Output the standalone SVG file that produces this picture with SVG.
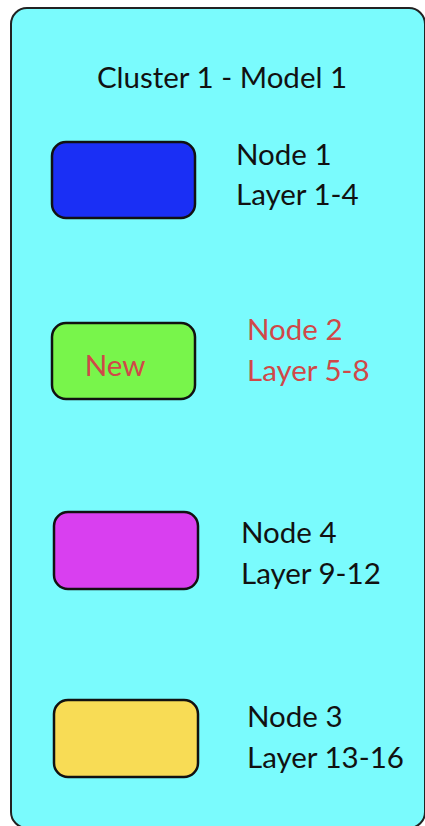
<svg xmlns="http://www.w3.org/2000/svg" width="425" height="826" viewBox="0 0 425 826">
<style>
.box{stroke:#111;stroke-width:2.5}
.t{font-family:Lato,"Open Sans",sans-serif;font-size:29.5px;fill:#111}
.r{fill:#d04848}
</style>
<rect width="425" height="826" fill="#fff"/>
<g id="cluster">
<rect x="11" y="8" width="414" height="820" rx="16" fill="#7afbfd" stroke="#222" stroke-width="2"/>
<text class="t" x="222" y="88" text-anchor="middle">Cluster 1 - Model 1</text>
</g>
<g id="node1">
<rect class="box" x="52" y="142" width="143" height="76" rx="14" fill="#1a2ff5"/>
<text class="t" x="236" y="165">Node 1</text>
<text class="t" x="236" y="205">Layer 1-4</text>
</g>
<g id="node2">
<rect class="box" x="52" y="323" width="143" height="76" rx="14" fill="#78f54b"/>
<text class="t r" x="115" y="376" text-anchor="middle">New</text>
<text class="t r" x="247" y="340">Node 2</text>
<text class="t r" x="247" y="381">Layer 5-8</text>
</g>
<g id="node4">
<rect class="box" x="54" y="512" width="144" height="77" rx="14" fill="#d93ff0"/>
<text class="t" x="241" y="543">Node 4</text>
<text class="t" x="241" y="584">Layer 9-12</text>
</g>
<g id="node3">
<rect class="box" x="54" y="700" width="144" height="77" rx="14" fill="#f8dc55"/>
<text class="t" x="247" y="727">Node 3</text>
<text class="t" x="247" y="768">Layer 13-16</text>
</g>
<g id="connectors"></g>
</svg>
